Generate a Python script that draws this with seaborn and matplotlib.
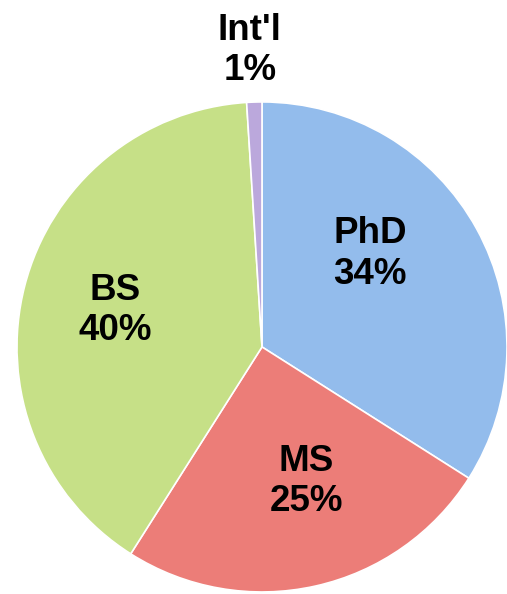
import numpy as np
import matplotlib
matplotlib.use("Agg")
import matplotlib.pyplot as plt
import seaborn as sns

# Degree breakdown
categories = ["PhD", "MS", "BS", "Int'l"]
shares = [34, 25, 40, 1]
colors = ["#93BCEC", "#EC7D78", "#C6E087", "#BBA8DC"]

sns.set_theme(style="white")
plt.rcParams['font.family'] = ['Liberation Sans', 'DejaVu Sans']

fig = plt.figure(figsize=(5.07, 5.94), dpi=100)
ax = fig.add_axes([0.0335, 0.0034, 0.9665, 0.825])

wedges, _ = ax.pie(shares, colors=colors, startangle=90, counterclock=False,
                   radius=1.0, wedgeprops=dict(edgecolor="white", linewidth=1.2))
ax.set_xlim(-1, 1)
ax.set_ylim(-1, 1)
ax.set_aspect("equal")

# label positions (in pie units)
label_pos = [(0.44, 0.38), (0.18, -0.55), (-0.60, 0.15), (-0.05, 1.21)]
for name, val, (x, y) in zip(categories, shares, label_pos):
    ax.text(x, y, f"{name}\n{val}%", ha="center", va="center", fontsize=26.5,
            fontweight="bold", linespacing=1.2, color="black", clip_on=False)

fig.savefig("out.png", dpi=100)
